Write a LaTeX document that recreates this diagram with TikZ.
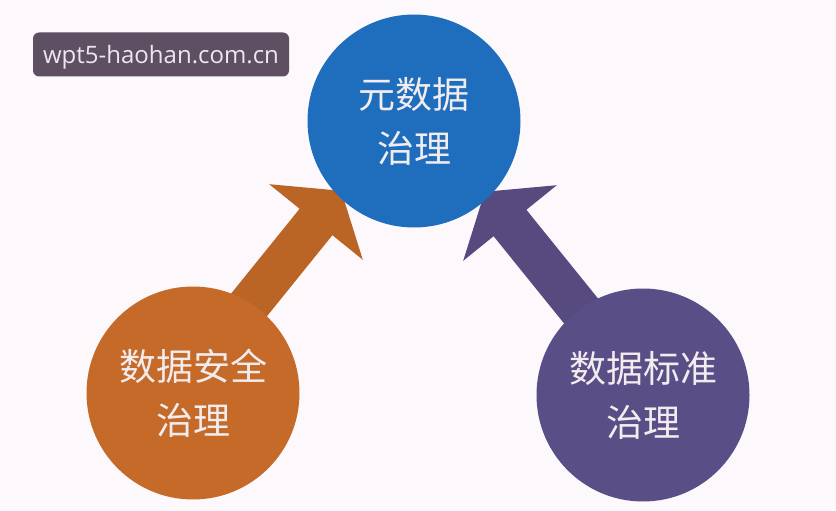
\documentclass[tikz,border=0pt]{standalone}
\usepackage{fontspec}
\newfontfamily\cjk{Noto Sans CJK SC}
\newfontfamily\wmfont{Open Sans}
\definecolor{bg}{HTML}{FCF8FB}
\definecolor{cblue}{HTML}{1F6EBD}
\definecolor{corange}{HTML}{C66A2A}
\definecolor{carroworange}{HTML}{BA6526}
\definecolor{cpurple}{HTML}{5A4E86}
\definecolor{carrowpurple}{HTML}{564A7E}
\definecolor{ctext}{HTML}{F2ECEF}
\definecolor{wmbg}{HTML}{5E4F63}
\definecolor{wmtext}{HTML}{EFE6F0}
\tikzset{
  bubble/.style={circle, minimum size=213pt, inner sep=0pt, align=center,
    text=ctext, font=\cjk\fontsize{37}{54}\selectfont},
  wmbox/.style={rounded corners=6pt, fill=wmbg, text=wmtext, inner sep=0pt,
    text depth=0pt, minimum width=256pt, minimum height=44pt,
    font=\wmfont\fontsize{24}{28}\selectfont}
}
\begin{document}
\begin{tikzpicture}[x=1pt,y=-1pt]
\useasboundingbox (0,0) rectangle (836,511);
\fill[bg] (0,0) rectangle (836,511);
% arrows (drawn under the circles)
\coordinate (oa1) at (224,302.4);
\coordinate (oa2) at (299.6,208.8);
\coordinate (oa3) at (269.2,184.2);
\coordinate (otip) at (341.2,190.8);
\coordinate (oa5) at (362.8,259.8);
\coordinate (oa6) at (332.4,235.2);
\coordinate (oa7) at (256.8,328.8);
\fill[carroworange] (oa1) -- (oa2) -- (oa3) -- (otip) -- (oa5) -- (oa6) -- (oa7) -- cycle;
\coordinate (pa1) at (602,303.4);
\coordinate (pa2) at (526.4,209.8);
\coordinate (pa3) at (556.8,185.2);
\coordinate (ptip) at (484.8,191.8);
\coordinate (pa5) at (463.2,260.8);
\coordinate (pa6) at (493.6,236.2);
\coordinate (pa7) at (569.2,329.8);
\fill[carrowpurple] (pa1) -- (pa2) -- (pa3) -- (ptip) -- (pa5) -- (pa6) -- (pa7) -- cycle;
% circles
\node[bubble, fill=cblue] (meta) at (414,121) {元数据\\治理};
\node[bubble, fill=corange] (sec) at (193,393) {数据安全\\治理};
\node[bubble, fill=cpurple] (std) at (643,395) {数据标准\\治理};
% watermark
\node[wmbox] (wm) at (161,54.5) {wpt5-haohan.com.cn};
\end{tikzpicture}
\end{document}
